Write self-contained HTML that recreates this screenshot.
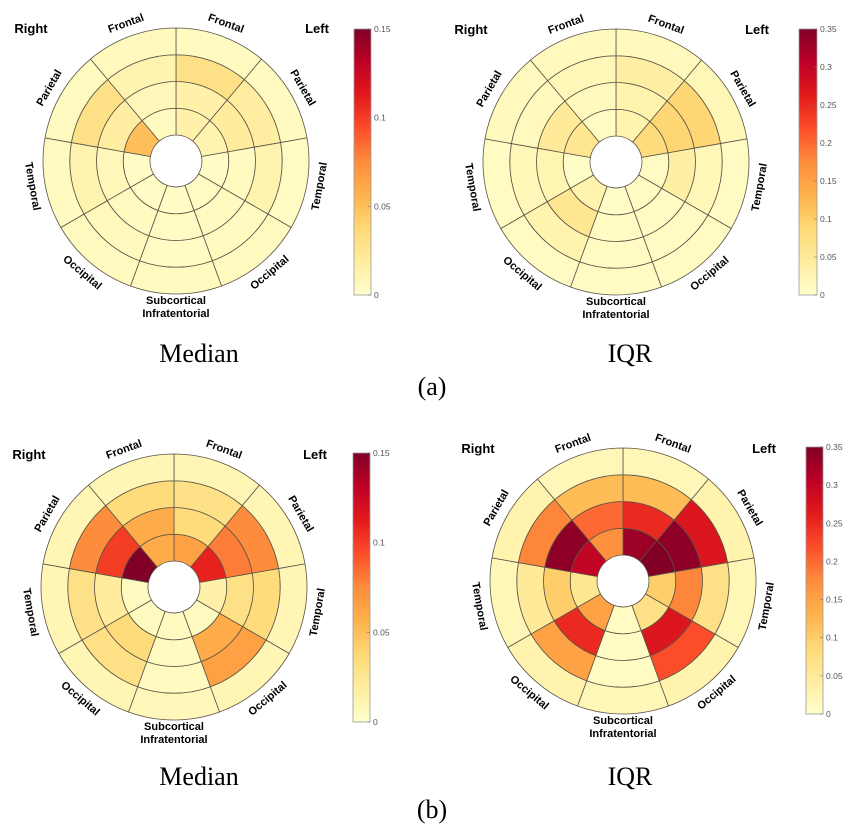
<!DOCTYPE html>
<html><head><meta charset="utf-8"><style>
html,body{margin:0;padding:0;background:#fff;}
svg{display:block;font-family:"Liberation Sans",sans-serif;}
</style></head><body>
<svg id="fig" width="866" height="838" viewBox="0 0 866 838" xmlns="http://www.w3.org/2000/svg">
<defs>
<linearGradient id="cmap" x1="0" y1="1" x2="0" y2="0">
<stop offset="0" stop-color="#ffffcc"/><stop offset="0.125" stop-color="#ffeda0"/><stop offset="0.25" stop-color="#fed976"/><stop offset="0.375" stop-color="#feb24c"/><stop offset="0.5" stop-color="#fd8d3c"/><stop offset="0.625" stop-color="#fc4e2a"/><stop offset="0.75" stop-color="#e31a1c"/><stop offset="0.875" stop-color="#bd0026"/><stop offset="1" stop-color="#800026"/>
</linearGradient>
</defs>
<text x="199" y="362" text-anchor="middle" font-family="Liberation Serif, serif" font-size="26">Median</text>
<text x="630" y="362" text-anchor="middle" font-family="Liberation Serif, serif" font-size="26">IQR</text>
<text x="432" y="395" text-anchor="middle" font-family="Liberation Serif, serif" font-size="26">(a)</text>
<text x="199" y="785" text-anchor="middle" font-family="Liberation Serif, serif" font-size="26">Median</text>
<text x="630" y="785" text-anchor="middle" font-family="Liberation Serif, serif" font-size="26">IQR</text>
<text x="432" y="818" text-anchor="middle" font-family="Liberation Serif, serif" font-size="26">(b)</text>
</svg>
<script>
// sectors clockwise from top, 40 degrees each
const sectorNames = ["L-Frontal","L-Parietal","L-Temporal","L-Occipital","Subcortical","R-Occipital","R-Temporal","R-Parietal","R-Frontal"];
const sectorLabels = ["Frontal","Parietal","Temporal","Occipital","","Occipital","Temporal","Parietal","Frontal"];
// values per sector: [ring0 (inner), ring1, ring2, ring3 (outer)]
const aMedian = [[0.015,0.015,0.03,0.005],[0.012,0.02,0.018,0.005],[0.003,0.005,0.012,0.004],[0.004,0.005,0.005,0.005],[0.003,0.004,0.004,0.005],[0.003,0.005,0.006,0.005],[0.003,0.008,0.012,0.005],[0.05,0.018,0.03,0.005],[0.005,0.008,0.012,0.006]];
const aIQR = [[0.03,0.03,0.04,0.015],[0.08,0.09,0.09,0.02],[0.01,0.04,0.02,0.01],[0.01,0.01,0.01,0.01],[0.005,0.01,0.01,0.01],[0.03,0.06,0.03,0.01],[0.005,0.025,0.02,0.01],[0.06,0.05,0.015,0.015],[0.01,0.015,0.02,0.015]];
const bMedian = [[0.065,0.035,0.03,0.01],[0.11,0.08,0.075,0.01],[0.015,0.03,0.035,0.01],[0.005,0.06,0.065,0.01],[0.005,0.005,0.005,0.008],[0.005,0.035,0.03,0.01],[0.005,0.02,0.03,0.01],[0.15,0.1,0.075,0.01],[0.06,0.06,0.035,0.01]];
const bIQR = [[0.33,0.25,0.12,0.02],[0.35,0.34,0.27,0.03],[0.1,0.18,0.07,0.02],[0.07,0.27,0.22,0.03],[0.01,0.01,0.01,0.02],[0.15,0.25,0.15,0.03],[0.06,0.1,0.05,0.02],[0.3,0.34,0.18,0.03],[0.17,0.2,0.12,0.02]];
const ticksMedian = [0,0.05,0.1,0.15];
const ticksIQR = [0,0.05,0.1,0.15,0.2,0.25,0.3,0.35];

const NS="http://www.w3.org/2000/svg";
const svg=document.getElementById('fig');
const stops=[[0,[255,255,204]],[0.125,[255,237,160]],[0.25,[254,217,118]],[0.375,[254,178,76]],[0.5,[253,141,60]],[0.625,[252,78,42]],[0.75,[227,26,28]],[0.875,[189,0,38]],[1,[128,0,38]]];
function cmap(t){t=Math.max(0,Math.min(1,t));for(let i=1;i<stops.length;i++){if(t<=stops[i][0]){const a=stops[i-1],b=stops[i];const f=(t-a[0])/(b[0]-a[0]);const c=a[1].map((v,k)=>Math.round(v+(b[1][k]-v)*f));return `rgb(${c[0]},${c[1]},${c[2]})`;}}return 'rgb(128,0,38)';}
function mk(tag,attrs,parent){const e=document.createElementNS(NS,tag);for(const k in attrs)e.setAttribute(k,attrs[k]);(parent||svg).appendChild(e);return e;}
function pt(cx,cy,r,deg){const a=deg*Math.PI/180;return [cx+r*Math.sin(a),cy-r*Math.cos(a)];}
const radii=[26,52.75,79.5,106.25,133];

function drawPlot(id,cx,cy,data,vmax,ticks,cb){
  const g=mk('g',{});
  
  
  data.forEach((rings,s)=>{
    const a0=s*40,a1=(s+1)*40;
    rings.forEach((v,r)=>{
      const r0=radii[r],r1=radii[r+1];
      const p1=pt(cx,cy,r0,a0),p2=pt(cx,cy,r1,a0),p3=pt(cx,cy,r1,a1),p4=pt(cx,cy,r0,a1);
      const d=`M${p1[0]},${p1[1]} L${p2[0]},${p2[1]} A${r1},${r1} 0 0 1 ${p3[0]},${p3[1]} L${p4[0]},${p4[1]} A${r0},${r0} 0 0 0 ${p1[0]},${p1[1]} Z`;
      const c=mk('path',{d:d,fill:cmap(v/vmax),stroke:'#5a5448','stroke-width':'0.8'},g);
      
      
    });
    const lbl=sectorLabels[s];
    if(lbl){
      let th=a0+20; if(th>180)th-=360;
      const p=pt(cx,cy,146,th);
      let rot=Math.abs(th)<=90?th:(th>0?th-180:th+180);
      const t=mk('text',{x:p[0],y:p[1],'text-anchor':'middle','dominant-baseline':'central','font-size':'11','font-weight':'bold',transform:`rotate(${rot} ${p[0]} ${p[1]})`},g);
      t.textContent=lbl;
      
      
    }
  });
  const s1=mk('text',{x:cx,y:cy+143,'text-anchor':'middle','font-size':'11','font-weight':'bold'},g);
  s1.textContent='Subcortical';
  
  
  const s2=mk('text',{x:cx,y:cy+156,'text-anchor':'middle','font-size':'11','font-weight':'bold'},g);
  s2.textContent='Infratentorial';
  
  
  const rt=mk('text',{x:cx-145,y:cy-128,'text-anchor':'middle','font-size':'13','font-weight':'bold'},g);
  rt.textContent='Right';
  
  
  const lt=mk('text',{x:cx+141,y:cy-128,'text-anchor':'middle','font-size':'13','font-weight':'bold'},g);
  lt.textContent='Left';
  
  
  // colorbar
  const [bx,by,bw,bh]=cb;
  const bar=mk('rect',{x:bx,y:by,width:bw,height:bh,fill:'url(#cmap)',stroke:'#999','stroke-width':'0.8'},g);
  
  
  ticks.forEach(tv=>{
    const y=by+bh-tv/vmax*bh;
    mk('line',{x1:bx+bw-3,x2:bx+bw,y1:y,y2:y,stroke:'#777','stroke-width':'0.6'},g);
    const tl=mk('text',{x:bx+bw+3,y:y,'dominant-baseline':'central','font-size':'8.5',fill:'#555'},g);
    tl.textContent=String(tv);
    
    
  });
}
drawPlot('a-median',176,161,aMedian,0.15,ticksMedian,[354,29,17,266]);
drawPlot('a-iqr',616,162,aIQR,0.35,ticksIQR,[799,29,18,266]);
drawPlot('b-median',174,587,bMedian,0.15,ticksMedian,[353,453,17,269]);
drawPlot('b-iqr',623,581,bIQR,0.35,ticksIQR,[806,447,17,267]);
</script>
</body></html>
